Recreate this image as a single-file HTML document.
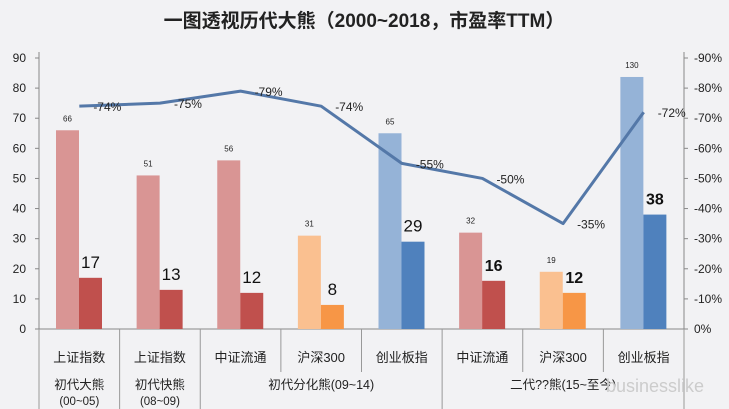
<!DOCTYPE html>
<html><head><meta charset="utf-8"><style>
body{margin:0;background:#f2f2f4;}
svg{display:block;font-family:"Liberation Sans","Noto Sans CJK SC",sans-serif;}
</style></head><body>
<svg id="chart" width="729" height="409">
<rect width="729" height="409" fill="#f2f2f4"/>
<text x="364" y="27" text-anchor="middle" font-size="19" font-weight="bold" fill="#222">一图透视历代大熊（2000~2018，市盈率TTM）</text>
<g id="g"></g>
</svg>
<script>
const categories=["上证指数","上证指数","中证流通","沪深300","创业板指","中证流通","沪深300","创业板指"];
const peakPE=[66,51,56,31,65,32,19,130];
const troughPE=[17,13,12,8,29,16,12,38];
const drawdown=[74,75,79,74,55,50,35,72];
const leftTicks=[0,10,20,30,40,50,60,70,80,90];
const rightTicks=["0%","-10%","-20%","-30%","-40%","-50%","-60%","-70%","-80%","-90%"];
const groups=[{label:"初代大熊",sub:"(00~05)",from:0,to:1},{label:"初代快熊",sub:"(08~09)",from:1,to:2},{label:"初代分化熊(09~14)",sub:"",from:2,to:5},{label:"二代??熊(15~至今)",sub:"",from:5,to:8}];
const colors=[["#d99594","#c0504d"],["#d99594","#c0504d"],["#d99594","#c0504d"],["#fac090","#f79646"],["#95b3d7","#4f81bd"],["#d99594","#c0504d"],["#fac090","#f79646"],["#95b3d7","#4f81bd"]];
const boldLabel=[false,false,false,false,false,true,true,true];

const L=39,R=684,T=58,B=329,YMAX=90;
const cw=(R-L)/categories.length;
const y=v=>B-(Math.min(v,YMAX-6.3))/YMAX*(B-T);
const yr=v=>B-v/YMAX*(B-T);
const cx=i=>L+cw*(i+0.5);
const g=document.getElementById('g');
const NS="http://www.w3.org/2000/svg";
function el(t,a,txt){const e=document.createElementNS(NS,t);for(const k in a)e.setAttribute(k,a[k]);if(txt!==undefined)e.textContent=txt;g.appendChild(e);return e;}

// axes
let e=el('line',{x1:L,y1:T-6,x2:L,y2:B,stroke:'#888'});

e=el('line',{x1:R,y1:T-6,x2:R,y2:B,stroke:'#888'});

e=el('line',{x1:L,y1:B,x2:R,y2:B,stroke:'#888'});

leftTicks.forEach(v=>{
 el('line',{x1:L-4,y1:yr(v),x2:L,y2:yr(v),stroke:'#888'});
 e=el('text',{x:26,y:yr(v)+4,'text-anchor':'end','font-size':12,fill:'#222'},v);
 
});
rightTicks.forEach((t,i)=>{
 el('line',{x1:R,y1:yr(i*10),x2:R+4,y2:yr(i*10),stroke:'#888'});
 e=el('text',{x:694,y:yr(i*10)+4,'font-size':12,fill:'#222'},t);
 
});
// bars
categories.forEach((c,i)=>{
 const x0=L+cw*i+17,bw=23;
 e=el('rect',{x:x0,y:y(peakPE[i]),width:bw,height:B-y(peakPE[i]),fill:colors[i][0]});
 
 e=el('rect',{x:x0+bw,y:yr(troughPE[i]),width:bw,height:B-yr(troughPE[i]),fill:colors[i][1]});
 
 e=el('text',{x:x0+bw/2,y:y(peakPE[i])-9,'text-anchor':'middle','font-size':8,fill:'#222'},peakPE[i]);
 
 e=el('text',{x:x0+bw*1.5,y:yr(troughPE[i])-10,'text-anchor':'middle','font-size':boldLabel[i]?16:17,'font-weight':boldLabel[i]?'bold':'normal',fill:'#111'},troughPE[i]);
 
 e=el('text',{x:cx(i),y:362,'text-anchor':'middle','font-size':13,fill:'#222'},c);
 
});
// line
e=el('polyline',{points:drawdown.map((v,i)=>cx(i)+','+yr(v)).join(' '),fill:'none',stroke:'#5478a8','stroke-width':3,'stroke-linejoin':'round'});

drawdown.forEach((v,i)=>{
 e=el('text',{x:cx(i)+14,y:yr(v)+5,'font-size':12,fill:'#222'},'-'+v+'%');
 
});
// dividers
for(let i=0;i<=categories.length;i++){
 const isG=groups.some(gr=>gr.from===i)||i===categories.length;
 el('line',{x1:L+cw*i,y1:B,x2:L+cw*i,y2:isG?410:372,stroke:'#999'});
}
groups.forEach(gr=>{
 const mx=(L+cw*gr.from+L+cw*gr.to)/2;
 e=el('text',{x:mx,y:389,'text-anchor':'middle','font-size':12.5,fill:'#222'},gr.label);
 
 if(gr.sub){e=el('text',{x:mx,y:405,'text-anchor':'middle','font-size':11.5,fill:'#222'},gr.sub);
 }
});
e=el('text',{x:606,y:392,'font-size':18,fill:'#ccc'},'businesslike');

</script>
</body></html>
